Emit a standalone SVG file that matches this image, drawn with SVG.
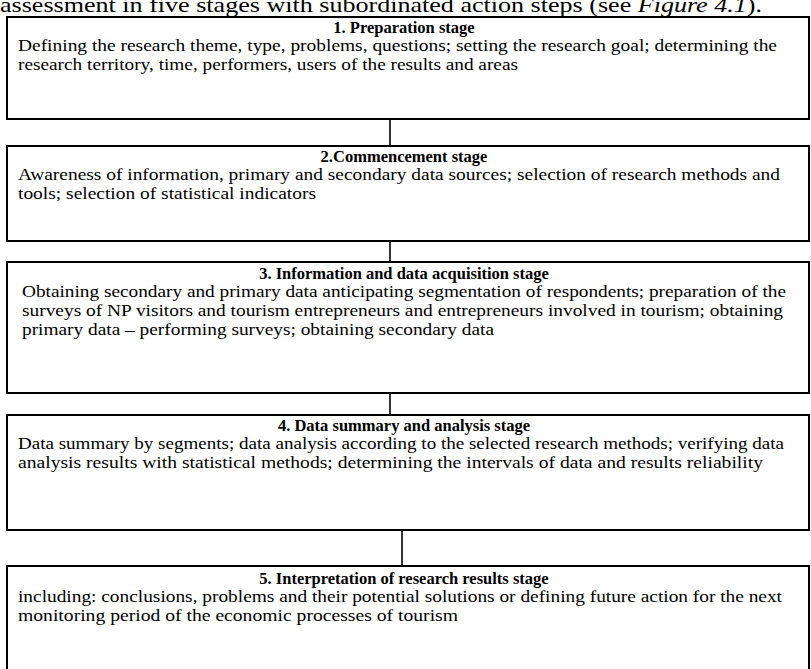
<svg xmlns="http://www.w3.org/2000/svg" width="811" height="669" viewBox="0 0 811 669">
<style>
.box{fill:#fff;stroke:#000;stroke-width:2}
.t{font-family:"Liberation Serif","Times New Roman",serif;font-size:16.5px;font-weight:bold;text-anchor:middle;fill:#000}
.b{font-family:"Liberation Serif","Times New Roman",serif;font-size:16.5px;fill:#000}
.top{font-family:"Liberation Serif","Times New Roman",serif;font-size:22px;fill:#000}
.c{stroke:#000;stroke-width:1.6;fill:none}
</style>
<rect width="811" height="669" fill="#fff"/>
<text class="top" x="0" y="12" textLength="762" lengthAdjust="spacingAndGlyphs">assessment in five stages with subordinated action steps (see <tspan font-style="italic">Figure 4.1</tspan>).</text>
<g id="connectors">
<line class="c" x1="390" y1="119" x2="390" y2="146"/>
<line class="c" x1="390" y1="241" x2="390" y2="262"/>
<line class="c" x1="390" y1="393" x2="390" y2="415"/>
<line class="c" x1="402" y1="530" x2="402" y2="566"/>
</g>
<g id="stage1">
<rect class="box" x="7" y="17" width="802" height="102"/>
<text class="t" x="404" y="33">1. Preparation stage</text>
<text class="b" x="18" y="51" textLength="759" lengthAdjust="spacingAndGlyphs">Defining the research theme, type, problems, questions; setting the research goal; determining the</text>
<text class="b" x="18" y="70" textLength="500" lengthAdjust="spacingAndGlyphs">research territory, time, performers, users of the results and areas</text>
</g>
<g id="stage2">
<rect class="box" x="7" y="146" width="802" height="95"/>
<text class="t" x="404" y="162">2.Commencement stage</text>
<text class="b" x="18" y="180" textLength="762" lengthAdjust="spacingAndGlyphs">Awareness of information, primary and secondary data sources; selection of research methods and</text>
<text class="b" x="18" y="199" textLength="298" lengthAdjust="spacingAndGlyphs">tools; selection of statistical indicators</text>
</g>
<g id="stage3">
<rect class="box" x="7" y="262" width="802" height="131"/>
<text class="t" x="404" y="279">3. Information and data acquisition stage</text>
<text class="b" x="22" y="297" textLength="764" lengthAdjust="spacingAndGlyphs">Obtaining secondary and primary data anticipating segmentation of respondents; preparation of the</text>
<text class="b" x="22" y="316" textLength="761" lengthAdjust="spacingAndGlyphs">surveys of NP visitors and tourism entrepreneurs and entrepreneurs involved in tourism; obtaining</text>
<text class="b" x="22" y="335" textLength="472" lengthAdjust="spacingAndGlyphs">primary data – performing surveys; obtaining secondary data</text>
</g>
<g id="stage4">
<rect class="box" x="7" y="415" width="802" height="115"/>
<text class="t" x="404" y="431">4. Data summary and analysis stage</text>
<text class="b" x="18" y="449" textLength="766" lengthAdjust="spacingAndGlyphs">Data summary by segments; data analysis according to the selected research methods; verifying data</text>
<text class="b" x="18" y="468" textLength="745" lengthAdjust="spacingAndGlyphs">analysis results with statistical methods; determining the intervals of data and results reliability</text>
</g>
<g id="stage5">
<rect class="box" x="7" y="566" width="802" height="110"/>
<text class="t" x="404" y="584">5. Interpretation of research results stage</text>
<text class="b" x="18" y="602" textLength="764" lengthAdjust="spacingAndGlyphs">including: conclusions, problems and their potential solutions or defining future action for the next</text>
<text class="b" x="18" y="621" textLength="440" lengthAdjust="spacingAndGlyphs">monitoring period of the economic processes of tourism</text>
</g>
</svg>
